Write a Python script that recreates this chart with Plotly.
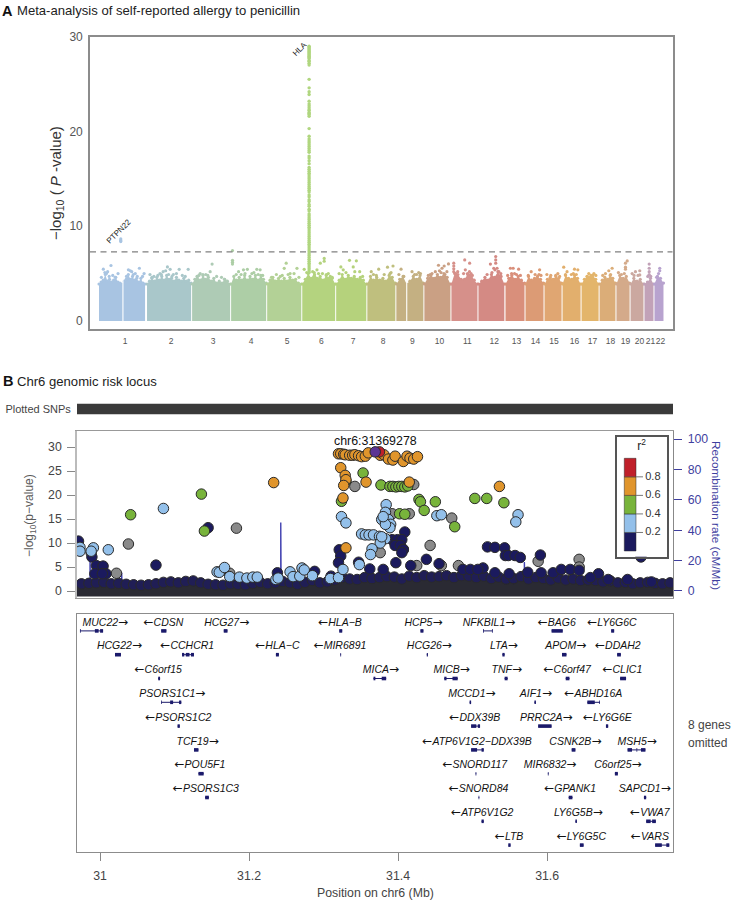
import plotly.graph_objects as go

W, H = 747, 910

# ---- panel A: genome-wide values ----
chr_names = ["1", "2", "3", "4", "5", "6", "7", "8", "9", "10", "11",
             "12", "13", "14", "15", "16", "17", "18", "19", "20", "21", "22"]
chr_start = [0, 245, 475, 674, 858, 1037, 1210, 1369, 1517, 1660, 1798,
             1936, 2074, 2176, 2273, 2365, 2462, 2554, 2640, 2712, 2783, 2834]
chr_end = [235, 470, 669, 853, 1032, 1205, 1364, 1512, 1655, 1793, 1931,
           2068, 2171, 2268, 2360, 2457, 2549, 2635, 2707, 2778, 2829, 2880]
chr_ticks = [133, 368, 582, 776, 960, 1134, 1297, 1450, 1599, 1737, 1879,
             2017, 2130, 2227, 2321, 2426, 2518, 2610, 2686, 2758, 2814, 2865]
chr_colors = ["#A8C4E2", "#A9C7CA", "#AECBB5", "#ADCEA6", "#B3D196", "#B4D37F", "#B5D27C", "#BFBF7E",
              "#C4B082", "#CAA084", "#D6908A", "#D48A84", "#D98F7B", "#DC9B75", "#E0A672", "#E2AF6D",
              "#E3B56B", "#DBAD78", "#D4AA8A", "#CBA8A0", "#C2A2B8", "#B8A3CF"]
centromere_gaps = [122, 1570]

# top edge of the solid mass of SNPs in each chromosome
chr_top = [
    [3.9, 4.1, 4.3, 4.9, 4.2, 4.4, 4.1, 4.3, 4.6, 4.1, 4.0, 3.9, 4.2, 4.4, 4.9, 4.4, 4.7, 4.3, 4.5, 4.1, 4.5, 4.0, 3.9],
    [3.9, 4.2, 4.5, 4.2, 4.6, 4.3, 4.7, 4.3, 4.8, 4.4, 4.5, 4.2, 4.6, 4.3, 4.2, 4.5, 4.2, 4.3, 4.0],
    [3.9, 4.4, 4.7, 4.3, 4.8, 4.4, 4.6, 4.2, 4.5, 4.0, 4.2, 4.0, 4.4, 4.2, 3.9],
    [3.9, 4.7, 4.3, 4.6, 4.3, 4.8, 4.3, 4.7, 4.4, 4.8, 4.3, 4.8, 4.4, 4.0],
    [3.9, 4.3, 4.6, 4.2, 4.5, 4.2, 4.5, 4.2, 4.6, 4.3, 4.4, 4.0, 3.9],
    [3.9, 4.4, 5.0, 4.5, 5.1, 4.5, 4.7, 4.3, 4.8, 4.5, 4.5, 3.9],
    [3.9, 4.3, 4.9, 4.4, 4.8, 4.5, 4.7, 4.4, 4.6, 4.3, 3.9],
    [3.9, 4.7, 4.3, 4.6, 4.3, 4.5, 4.2, 4.8, 4.6, 4.0],
    [3.9, 4.4, 4.7, 3.9, 4.2, 4.7, 4.4, 4.8, 4.0],
    [3.9, 4.5, 4.8, 4.5, 4.9, 4.6, 5.0, 4.6, 3.9],
    [3.9, 5.0, 4.9, 4.4, 4.4, 4.9, 5.0, 4.3, 3.9],
    [3.9, 4.2, 4.6, 4.3, 4.9, 4.6, 5.2, 4.7, 3.9],
    [3.9, 4.5, 4.8, 4.4, 4.7, 4.3, 4.0],
    [3.9, 4.7, 4.3, 4.5, 4.7, 4.4, 4.0],
    [3.9, 4.4, 4.6, 4.4, 4.7, 4.5, 4.0],
    [3.9, 4.8, 4.5, 4.4, 4.8, 4.5, 3.9],
    [3.9, 4.4, 4.7, 4.6, 4.8, 4.4, 3.9],
    [3.9, 4.3, 4.6, 4.4, 4.8, 4.5, 4.0],
    [3.9, 4.8, 4.5, 4.7, 4.0],
    [3.9, 4.5, 4.2, 4.4, 3.9],
    [3.9, 4.1, 4.5, 3.9],
    [3.9, 4.7, 4.5, 4.0],
]

# points standing clear of the mass, per chromosome
hit_x = [
    [22, 44, 61, 30, 38, 97, 111, 111, 111, 150, 167, 206, 230, 160, 185, 52, 70, 83, 140, 175, 195, 222, 12],
    [260, 311, 327, 349, 363, 379, 409, 455, 340, 395, 280, 300, 318, 372, 425, 440, 270, 355],
    [516, 577, 567, 530, 625, 500, 545, 555, 600, 640, 510],
    [681, 681, 681, 681, 712, 737, 757, 805, 822, 780, 700, 725, 745, 790, 812, 835],
    [955, 945, 905, 975, 1010, 995, 880, 925, 935, 965, 1020],
    [1047, 1129, 1149, 1149, 1112, 1170, 1060, 1090, 1100, 1120, 1140, 1160, 1180, 1190],
    [1234, 1278, 1313, 1297, 1246, 1330, 1225, 1260, 1305, 1345],
    [1389, 1427, 1472, 1500, 1485, 1400, 1415, 1455, 1490],
    [1541, 1597, 1631, 1640, 1530, 1555, 1610, 1620],
    [1732, 1783, 1761, 1750, 1737, 1716, 1699, 1765, 1680, 1690, 1745, 1775],
    [1866, 1891, 1810, 1810, 1810, 1810, 1830, 1869, 1890, 1820, 1860, 1880, 1905],
    [2024, 2024, 2024, 1997, 2014, 2031, 1980, 2005, 2040, 2050, 2020],
    [2099, 2113, 2141, 2105, 2130, 2085, 2120, 2150],
    [2205, 2248, 2245, 2190, 2225, 2255],
    [2285, 2341, 2305, 2330, 2350],
    [2371, 2388, 2426, 2443, 2410, 2435, 2380, 2420],
    [2499, 2525, 2510, 2490, 2535],
    [2618, 2601, 2584, 2610, 2570],
    [2695, 2686, 2686, 2686, 2650, 2665, 2680],
    [2759, 2737, 2720, 2759, 2730, 2750],
    [2807, 2807, 2807, 2807, 2800, 2815],
    [2861, 2861, 2845, 2855],
]
hit_p = [
    [5.46, 5.2, 5.85, 5.1, 5.0, 5.0, 8.66, 8.5, 8.38, 5.4, 5.2, 5.56, 5.0, 5.3, 5.0, 4.7, 4.8, 4.6, 4.7, 4.9, 4.7, 4.7, 4.6],
    [4.9, 5.0, 5.2, 5.7, 5.45, 4.9, 5.45, 5.45, 5.3, 5.0, 4.7, 4.8, 4.9, 4.7, 4.8, 4.7, 4.6, 4.9],
    [5.0, 6.0, 5.2, 4.9, 4.6, 4.7, 4.9, 4.8, 4.7, 4.4, 4.8],
    [7.43, 6.4, 6.2, 6.0, 5.2, 5.4, 5.45, 5.45, 5.4, 5.0, 4.9, 4.9, 5.0, 5.1, 4.9, 4.8],
    [6.1, 5.55, 4.9, 5.0, 5.55, 5.0, 4.6, 4.7, 4.8, 4.9, 4.6],
    [5.45, 6.1, 6.6, 6.3, 5.4, 5.0, 5.1, 5.2, 4.9, 5.0, 5.0, 4.9, 4.7, 4.6],
    [5.7, 6.4, 6.35, 5.7, 5.4, 5.2, 5.0, 5.1, 5.2, 4.7],
    [5.2, 5.46, 5.67, 5.8, 5.0, 4.9, 4.8, 4.9, 5.1],
    [5.46, 5.2, 5.1, 5.0, 4.9, 4.7, 4.9, 4.9],
    [5.88, 6.02, 5.8, 5.56, 5.3, 5.2, 5.0, 4.9, 4.8, 4.9, 5.1, 5.2],
    [6.44, 6.1, 6.1, 5.8, 5.5, 5.2, 5.2, 5.4, 5.2, 5.0, 5.0, 5.0, 4.8],
    [6.8, 6.44, 6.1, 6.0, 5.56, 5.56, 4.9, 5.1, 5.2, 5.0, 5.4],
    [5.56, 5.56, 5.46, 5.0, 4.9, 4.8, 5.0, 4.8],
    [5.2, 5.4, 4.9, 4.8, 4.9, 4.8],
    [4.9, 5.0, 4.8, 4.8, 4.7],
    [5.67, 5.2, 5.46, 5.4, 4.9, 4.9, 4.9, 5.0],
    [5.0, 5.0, 4.8, 4.7, 4.8],
    [5.56, 5.3, 5.0, 4.9, 4.8],
    [6.34, 6.1, 5.67, 5.46, 5.1, 4.9, 5.0],
    [5.3, 5.2, 5.0, 4.86, 4.8, 4.8],
    [6.0, 5.56, 5.2, 4.9, 4.7, 4.7],
    [5.56, 5.3, 4.6, 5.0],
]

hla_x = 1072
hla_p = [29.0, 28.9, 28.8, 28.7, 28.6, 28.5, 28.4, 28.3, 28.2, 28.1, 28.0, 27.9, 27.8, 27.7, 27.5, 27.4, 27.2, 27.0,
         25.5, 24.6, 24.2, 23.9, 23.2, 22.9, 22.7, 22.5, 22.3, 22.2, 22.0, 21.9, 21.8, 21.6, 20.3, 19.5, 19.2, 19.0,
         18.8, 18.6, 18.4, 18.2, 18.0, 17.8, 17.4, 17.2, 16.9, 16.6, 16.2, 16.0, 15.8, 15.6, 15.4, 15.2, 15.0, 14.8,
         14.6, 14.4, 14.2, 14.0, 13.8, 13.6, 13.3, 13.1, 12.8, 12.6, 12.3, 12.1, 11.8, 11.6, 11.3, 11.1, 10.9, 10.7,
         10.5, 10.3, 10.1, 9.9, 9.7, 9.5, 9.3, 9.1, 8.9, 8.7, 8.5, 8.3, 8.1, 7.9, 7.7, 7.5, 7.3, 7.1, 6.9, 6.7, 6.5,
         6.3, 6.1, 5.9, 5.7, 5.5, 5.3, 5.1]
threshold = 7.3

# ---- panel B: locus values ----
grey_mb = [31.038, 31.022, 31.183, 31.174, 31.342, 31.421, 31.392, 31.415, 31.472, 31.443, 31.376, 31.643, 31.588,
           31.481, 31.425, 31.458, 30.988, 31.643]
grey_p = [9.8, 3.7, 13.1, 3.7, 21.8, 22.2, 16.1, 16.1, 15.2, 9.5, 8.0, 6.6, 6.2, 5.3, 5.3, 5.3, 8.0, 5.0]

navy_mb = [30.971, 30.989, 31.145, 31.075, 30.995, 31.004, 30.993, 31.008, 31.003, 31.238, 31.288, 31.310, 31.409,
           31.392, 31.399, 31.405, 31.396, 31.403, 31.407, 31.407, 31.405, 31.397, 31.438, 31.455, 31.417, 31.362,
           31.347, 31.321, 31.323, 31.320, 31.380, 31.520, 31.530, 31.543, 31.544, 31.548, 31.557, 31.564, 31.591,
           31.514, 31.530, 31.549, 31.574, 31.592, 31.608, 31.619, 31.631, 31.643, 31.669, 31.726, 31.658, 31.682,
           31.708, 31.740, 31.487, 31.497, 31.507]
navy_p = [10.4, 7.1, 13.2, 5.4, 5.3, 5.2, 3.6, 3.6, 3.6, 3.8, 4.1, 3.1, 12.3, 10.7, 10.7, 10.7, 9.5, 9.5, 8.7, 8.6,
          8.0, 5.9, 6.6, 5.7, 5.3, 4.6, 6.0, 8.6, 7.3, 5.9, 4.5, 9.2, 9.1, 9.0, 7.4, 7.4, 7.4, 7.0, 7.5, 4.8, 3.8,
          3.6, 3.9, 3.8, 3.8, 4.5, 4.5, 4.3, 3.6, 7.1, 2.8, 2.4, 2.4, 1.9, 4.5, 4.5, 4.5]

blue_mb = [30.973, 30.973, 30.991, 30.988, 31.011, 31.085, 31.157, 31.160, 31.167, 31.174, 31.187, 31.197, 31.205,
           31.211, 31.236, 31.239, 31.255, 31.259, 31.268, 31.271, 31.274, 31.285, 31.309, 31.320, 31.384, 31.383,
           31.324, 31.330, 31.378, 31.383, 31.387, 31.390, 31.389, 31.383, 31.380, 31.452, 31.458, 31.561, 31.558,
           31.351, 31.356, 31.361, 31.367, 31.375, 31.383, 31.376, 31.378, 31.365, 31.363, 31.348, 31.326]
blue_p = [9.1, 8.3, 9.0, 8.3, 8.6, 17.2, 4.0, 3.9, 4.9, 3.0, 2.9, 2.7, 2.9, 2.9, 2.4, 2.7, 4.0, 3.0, 3.1, 4.8, 4.4,
          3.2, 2.6, 2.8, 18.0, 16.4, 15.5, 14.2, 14.9, 14.5, 14.9, 13.9, 13.2, 13.9, 15.5, 15.7, 15.9, 15.9, 14.4,
          11.9, 11.7, 11.7, 11.7, 11.4, 10.9, 10.0, 11.3, 8.8, 7.6, 5.5, 4.5]

green_mb = [31.041, 31.136, 31.140, 31.353, 31.330, 31.324, 31.377, 31.389, 31.393, 31.397, 31.401, 31.405, 31.409,
            31.413, 31.428, 31.430, 31.450, 31.435, 31.476, 31.402, 31.409, 31.503, 31.519, 31.542]
green_p = [15.9, 20.2, 12.5, 24.6, 22.9, 18.7, 22.1, 21.8, 21.8, 21.7, 21.8, 21.8, 21.7, 21.9, 19.1, 18.6, 18.6,
           16.8, 13.4, 16.1, 16.0, 19.3, 19.3, 18.4]

orange_mb = [31.233, 31.320, 31.323, 31.327, 31.329, 31.335, 31.339, 31.342, 31.347, 31.351, 31.356, 31.360, 31.376,
             31.381, 31.387, 31.393, 31.396, 31.407, 31.412, 31.416, 31.421, 31.426, 31.323, 31.329, 31.330, 31.327,
             31.357, 31.326, 31.330, 31.415, 31.536]
orange_p = [22.6, 28.6, 28.6, 28.5, 28.4, 28.3, 28.3, 28.4, 28.2, 28.0, 28.1, 28.8, 28.3, 28.4, 27.5, 27.3, 28.1,
            27.0, 28.1, 27.7, 27.5, 28.0, 25.7, 24.1, 23.2, 22.0, 22.7, 19.4, 9.0, 22.7, 21.8]

red_mb = [31.375]
red_p = [29.0]
lead_mb = [31.369278]
lead_p = [29.0]
lead_label = "chr6:31369278"

# scalloped row of navy SNPs sitting on the solid base
crown_mb = [30.975, 30.985, 30.995, 31.005, 31.015, 31.025, 31.035, 31.045, 31.055, 31.065,
            31.075, 31.085, 31.095, 31.105, 31.115, 31.125, 31.135, 31.145, 31.155, 31.165,
            31.175, 31.185, 31.195, 31.205, 31.215, 31.225, 31.235, 31.245, 31.255, 31.265,
            31.275, 31.285, 31.295, 31.305, 31.315, 31.325, 31.335, 31.345, 31.355, 31.365,
            31.375, 31.385, 31.395, 31.405, 31.415, 31.425, 31.435, 31.445, 31.455, 31.465,
            31.475, 31.485, 31.495, 31.505, 31.515, 31.525, 31.535, 31.545, 31.555, 31.565,
            31.575, 31.585, 31.595, 31.605, 31.615, 31.625, 31.635, 31.645, 31.655, 31.665,
            31.675, 31.685, 31.695, 31.705, 31.715, 31.725, 31.735, 31.745, 31.755, 31.765]
crown_p = [1.5, 1.6, 1.7, 1.8, 1.5, 1.6, 1.4, 1.3, 1.2, 1.3,
           1.5, 1.8, 1.9, 1.7, 2.0, 2.1, 1.7, 1.4, 1.3, 1.2,
           1.5, 1.4, 1.3, 1.6, 1.8, 1.5, 1.7, 2.0, 1.7, 1.4,
           1.8, 2.2, 1.7, 1.9, 2.3, 2.8, 2.5, 2.4, 2.8, 2.6,
           2.8, 3.0, 2.9, 2.5, 3.1, 2.8, 3.2, 2.9, 3.0, 3.2,
           2.8, 3.2, 3.1, 2.8, 3.1, 2.6, 2.9, 2.5, 2.6, 3.0,
           2.5, 2.8, 2.6, 2.3, 2.7, 2.3, 2.5, 2.2, 2.3, 2.2,
           1.9, 2.1, 1.7, 1.8, 1.5, 1.7, 1.8, 1.6, 1.5, 1.7]

# solid dark base under the points
mass_mb = [30.969, 31.05, 31.10, 31.15, 31.20, 31.25, 31.30, 31.33, 31.40, 31.45, 31.50, 31.55, 31.60, 31.65,
           31.70, 31.769, 31.769, 30.969]
mass_p = [1.6, 1.5, 1.5, 1.6, 1.6, 1.5, 1.8, 2.3, 2.8, 2.9, 2.8, 2.5, 2.4, 2.2, 1.9, 1.8, -1.15, -1.15]

recomb_mb = [30.969, 30.9865, 30.9865, 30.987, 31.029, 31.029, 31.0295, 31.2425, 31.2425, 31.243, 31.5695, 31.5695,
             31.5705, 31.769]
recomb_rate = [1, 1, 24, 1, 1, 12, 1, 1, 45, 1, 1, 19, 1, 1]

r2_low = [0, 0.2, 0.4, 0.6, 0.8]
r2_colors = ["#1B1A5E", "#93C0EA", "#78B43B", "#E0952C", "#C0202A"]
r2_ticks = [0.2, 0.4, 0.6, 0.8]

# ---- genes ----
gene_names = ["MUC22", "CDSN", "HCG27", "HLA−B", "HCP5", "NFKBIL1", "BAG6", "LY6G6C",
              "HCG22", "CCHCR1", "HLA−C", "MIR6891", "HCG26", "LTA", "APOM", "DDAH2",
              "C6orf15", "MICA", "MICB", "TNF", "C6orf47", "CLIC1",
              "PSORS1C1", "MCCD1", "AIF1", "ABHD16A",
              "PSORS1C2", "DDX39B", "PRRC2A", "LY6G6E",
              "TCF19", "ATP6V1G2−DDX39B", "CSNK2B", "MSH5",
              "POU5F1", "SNORD117", "MIR6832", "C6orf25",
              "PSORS1C3", "SNORD84", "GPANK1", "SAPCD1",
              "ATP6V1G2", "LY6G5B", "VWA7",
              "LTB", "LY6G5C", "VARS"]
gene_dirs = [">", "<", ">", "<", ">", ">", "<", "<",
             ">", "<", "<", "<", ">", ">", ">", "<",
             "<", ">", ">", ">", "<", "<",
             ">", ">", ">", "<",
             "<", "<", ">", "<",
             ">", "<", ">", ">",
             "<", "<", ">", ">",
             "<", "<", "<", ">",
             "<", ">", "<",
             "<", "<", "<"]
gene_rows = [1, 1, 1, 1, 1, 1, 1, 1,
             2, 2, 2, 2, 2, 2, 2, 2,
             3, 3, 3, 3, 3, 3,
             4, 4, 4, 4,
             5, 5, 5, 5,
             6, 6, 6, 6,
             7, 7, 7, 7,
             8, 8, 8, 8,
             9, 9, 9,
             10, 10, 10]
gene_label_mb = [31.007, 31.085, 31.170, 31.322, 31.434, 31.522, 31.613, 31.687,
                 31.026, 31.117, 31.238, 31.322, 31.442, 31.542, 31.625, 31.695,
                 31.078, 31.377, 31.472, 31.546, 31.627, 31.701,
                 31.097, 31.499, 31.585, 31.662,
                 31.105, 31.503, 31.599, 31.681,
                 31.131, 31.506, 31.638, 31.721,
                 31.134, 31.503, 31.604, 31.695,
                 31.142, 31.508, 31.631, 31.731,
                 31.513, 31.642, 31.738,
                 31.549, 31.646, 31.738]
gene_start = [30.973, 31.082, 31.166, 31.321, 31.430, 31.514, 31.606, 31.686,
              31.020, 31.110, 31.236, 31.3225, 31.4385, 31.540, 31.620, 31.694,
              31.078, 31.367, 31.462, 31.543, 31.625, 31.698,
              31.082, 31.496, 31.583, 31.654,
              31.104, 31.498, 31.588, 31.679,
              31.126, 31.498, 31.633, 31.708,
              31.132, 31.504, 31.601, 31.691,
              31.141, 31.508, 31.629, 31.730,
              31.512, 31.638, 31.733,
              31.548, 31.644, 31.745]
gene_end = [31.004, 31.089, 31.171, 31.325, 31.434, 31.527, 31.621, 31.690,
            31.028, 31.126, 31.240, 31.3235, 31.440, 31.543, 31.626, 31.699,
            31.0805, 31.384, 31.480, 31.547, 31.630, 31.706,
            31.109, 31.498, 31.585, 31.671,
            31.107, 31.510, 31.606, 31.682,
            31.132, 31.515, 31.638, 31.732,
            31.139, 31.505, 31.602, 31.695,
            31.146, 31.509, 31.634, 31.733,
            31.515, 31.640, 31.746,
            31.551, 31.649, 31.764]
# genes whose exons do not fill the whole span
gene_exons = {
    "MUC22": [(30.973, 30.974), (30.993, 30.998), (31.000, 31.004)],
    "NFKBIL1": [(31.514, 31.515), (31.526, 31.527)],
    "CCHCR1": [(31.110, 31.113), (31.115, 31.120), (31.122, 31.126)],
    "MICA": [(31.367, 31.3695), (31.378, 31.384)],
    "MICB": [(31.462, 31.465), (31.473, 31.480)],
    "PSORS1C1": [(31.082, 31.083), (31.094, 31.098), (31.106, 31.109)],
    "ABHD16A": [(31.654, 31.664), (31.670, 31.671)],
    "MSH5": [(31.708, 31.714), (31.720, 31.721), (31.726, 31.732)],
    "VARS": [(31.745, 31.754), (31.760, 31.764)],
    "ATP6V1G2−DDX39B": [(31.498, 31.506), (31.512, 31.515)],
    "DDX39B": [(31.498, 31.505), (31.507, 31.510)],
    "VWA7": [(31.733, 31.739), (31.741, 31.746)],
}


def dom_x(left, right):
    return [left / W, right / W]


def dom_y(top, bottom):
    return [1 - bottom / H, 1 - top / H]


FONT = "Liberation Sans"
NAVY = "#1B1A6B"
BLUE = "#3F3F9F"
BOX = "#8C8C8C"
OUTLINE = "#2A2A2A"

fig = go.Figure()

# Manhattan
for i in range(22):
    n = len(chr_top[i])
    step = (chr_end[i] - chr_start[i]) / (n - 1)
    xs = [chr_start[i] + step * k for k in range(n)]
    fig.add_trace(go.Scatter(x=[chr_start[i]] + xs + [chr_end[i]], y=[0] + chr_top[i] + [0],
                             mode="lines", fill="toself", fillcolor=chr_colors[i], line=dict(width=0),
                             hoverinfo="skip", xaxis="x", yaxis="y"))
    fig.add_trace(go.Scatter(x=xs + hit_x[i], y=chr_top[i] + hit_p[i], mode="markers",
                             marker=dict(size=3.2, color=chr_colors[i]), xaxis="x", yaxis="y"))
for gap in centromere_gaps:
    fig.add_trace(go.Scatter(x=[gap, gap], y=[-0.2, 5.6], mode="lines", line=dict(color="white", width=1.1),
                             hoverinfo="skip", xaxis="x", yaxis="y"))
fig.add_trace(go.Scatter(x=[hla_x] * len(hla_p), y=hla_p, mode="markers",
                         marker=dict(size=3.4, color="#B0D67F"), xaxis="x", yaxis="y"))
fig.add_shape(type="line", xref="x domain", yref="y", x0=0, x1=1, y0=threshold, y1=threshold,
              line=dict(color="#808080", width=1.3, dash="6px,4.5px"))

# Plotted SNPs strip
fig.add_trace(go.Bar(y=["Plotted SNPs"], x=[0.8], base=[30.969], orientation="h", width=[1],
                     marker=dict(color="#3A3A3A", line=dict(width=0)), xaxis="x2", yaxis="y2"))

# locus: recombination rate sits under the points
fig.add_trace(go.Scatter(x=recomb_mb, y=recomb_rate, mode="lines", line=dict(color="#4040B0", width=1.4),
                         xaxis="x3", yaxis="y6"))
fig.add_trace(go.Scatter(x=mass_mb, y=mass_p, mode="lines", fill="toself", fillcolor="#2A2A33",
                         line=dict(width=0), hoverinfo="skip", xaxis="x3", yaxis="y3"))
layers = [(crown_mb, crown_p, "#201E55"), (grey_mb, grey_p, "#8A8A8A"), (navy_mb, navy_p, r2_colors[0]),
          (blue_mb, blue_p, r2_colors[1]), (green_mb, green_p, r2_colors[2]), (orange_mb, orange_p, r2_colors[3]),
          (red_mb, red_p, r2_colors[4]), (lead_mb, lead_p, "#5B3494")]
for xs, ys, col in layers:
    fig.add_trace(go.Scatter(x=xs, y=ys, mode="markers",
                             marker=dict(size=10.5, color=col, line=dict(color=OUTLINE, width=1)),
                             xaxis="x3", yaxis="y3"))

# genes
RIGHT = '<span style="font-family:DejaVu Sans;font-size:12px">→</span>'
LEFT = '<span style="font-family:DejaVu Sans;font-size:12px">←</span>'
span_x, span_y, exon_x, exon_y, labels = [], [], [], [], []
for name, direction, row, start, end in zip(gene_names, gene_dirs, gene_rows, gene_start, gene_end):
    span_x += [start, end, None]
    span_y += [row + 0.33, row + 0.33, None]
    for a, b in gene_exons.get(name, [(start, end)]):
        exon_x += [a, b, None]
        exon_y += [row + 0.33, row + 0.33, None]
    labels.append(f"<i>{name}</i>{RIGHT}" if direction == ">" else f"{LEFT}<i>{name}</i>")
fig.add_trace(go.Scatter(x=span_x, y=span_y, mode="lines", line=dict(color=NAVY, width=1),
                         xaxis="x4", yaxis="y4"))
fig.add_trace(go.Scatter(x=exon_x, y=exon_y, mode="lines", line=dict(color=NAVY, width=3.6),
                         xaxis="x4", yaxis="y4"))
fig.add_trace(go.Scatter(x=gene_label_mb, y=gene_rows, mode="text", text=labels,
                         textfont=dict(family=FONT, size=10.5, color="#111111"),
                         xaxis="x4", yaxis="y4"))

# r2 key
fig.add_trace(go.Bar(x=[0.26] * 5, y=[0.2] * 5, base=r2_low, width=[0.237] * 5,
                     marker=dict(color=r2_colors, line=dict(color=OUTLINE, width=0.5)),
                     xaxis="x5", yaxis="y5"))
tick_x, tick_y = [], []
for t in r2_ticks:
    tick_x += [0.377, 0.52, None]
    tick_y += [t, t, None]
fig.add_trace(go.Scatter(x=tick_x, y=tick_y, mode="lines", line=dict(color="#777777", width=1),
                         xaxis="x5", yaxis="y5"))
fig.add_trace(go.Scatter(x=[0.72] * 4, y=r2_ticks, mode="text", text=[f"{t:.1f}" for t in r2_ticks],
                         textfont=dict(family=FONT, size=11, color="#333333"), xaxis="x5", yaxis="y5"))
fig.add_trace(go.Scatter(x=[0.49], y=[1.12], mode="text", text=["r<sup>2</sup>"],
                         textfont=dict(family=FONT, size=12, color="#222222"), xaxis="x5", yaxis="y5"))

hidden = dict(showticklabels=False, ticks="", showgrid=False, zeroline=False)
locus_range = [30.969, 31.769]
fig.update_layout(
    width=W, height=H, autosize=False,
    margin=dict(l=0, r=0, t=0, b=0, autoexpand=False),
    paper_bgcolor="white", plot_bgcolor="white",
    showlegend=False, hovermode=False, barmode="overlay",
    font=dict(family=FONT, color="#444444"),
    xaxis=dict(domain=dom_x(90, 672.5), anchor="y", range=[-46, 2926], tickmode="array", tickvals=chr_ticks,
               ticktext=chr_names, tickangle=0, tickfont=dict(size=8.5, color="#555555"), ticks="outside", ticklen=3,
               tickcolor="rgba(0,0,0,0)", showgrid=False, zeroline=False,
               showline=True, mirror=True, linecolor=BOX, linewidth=1.6),
    yaxis=dict(domain=dom_y(36.7, 329), anchor="x", range=[-0.85, 30], tickmode="array", tickvals=[0, 10, 20, 30],
               tickfont=dict(size=12, color="#555555"), ticks="outside", ticklen=3, tickcolor="rgba(0,0,0,0)",
               showgrid=False, zeroline=False, showline=True, mirror=True, linecolor=BOX, linewidth=1.6),
    xaxis2=dict(domain=dom_x(77, 673), anchor="y2", range=locus_range, visible=False),
    yaxis2=dict(domain=dom_y(403.5, 414.5), anchor="x2", range=[-0.5, 0.5], ticks="outside", ticklen=3,
                tickcolor="rgba(0,0,0,0)", tickfont=dict(size=11, color="#444444"), showgrid=False,
                zeroline=False, showline=False),
    xaxis3=dict(domain=dom_x(77, 673), anchor="y3", range=locus_range, showline=True, mirror=True,
                linecolor="#999999", linewidth=1.4, **hidden),
    yaxis3=dict(domain=dom_y(431, 597.5), anchor="x3", range=[-1.35, 33.35], overlaying="y6",
                tickmode="array", tickvals=[0, 5, 10, 15, 20, 25, 30], tickfont=dict(size=12.3, color="#444444"),
                ticks="outside", ticklen=8, ticklabelstandoff=3, tickcolor="#888888", showgrid=False, zeroline=False,
                showline=True, linecolor="#BBBBBB", linewidth=1.6),
    yaxis6=dict(domain=dom_y(431, 597.5), anchor="x3", side="right", range=[-4.3, 105.3],
                tickmode="array", tickvals=[0, 20, 40, 60, 80, 100], tickfont=dict(size=12.3, color=BLUE),
                ticks="outside", ticklen=8, ticklabelstandoff=3, tickcolor=BLUE, showgrid=False, zeroline=False,
                showline=True, linecolor="#888888", linewidth=1.4),
    xaxis4=dict(domain=dom_x(77, 673), anchor="y4", range=locus_range, tickmode="array",
                tickvals=[31, 31.2, 31.4, 31.6], ticktext=["31", "31.2", "31.4", "31.6"],
                tickfont=dict(size=12.3, color="#444444"), ticks="outside", ticklen=8, ticklabelstandoff=4,
                tickcolor="#888888", showgrid=False, zeroline=False, showline=True, mirror=True,
                linecolor="#8C8C8C", linewidth=1.4),
    yaxis4=dict(domain=dom_y(614, 852), anchor="x4", range=[10.62, 0.62], showline=True, mirror=True,
                linecolor="#8C8C8C", linewidth=1.4, **hidden),
    xaxis5=dict(domain=dom_x(617.3, 666.7), anchor="y5", range=[0, 1], showline=True, mirror=True,
                linecolor="#555555", linewidth=1.5, **hidden),
    yaxis5=dict(domain=dom_y(437.3, 556.7), anchor="x5", range=[-0.0615, 1.2265], showline=True, mirror=True,
                linecolor="#555555", linewidth=1.5, **hidden),
)


def note(text, x, y, size=11, color="#444444", angle=0, anchor="left"):
    fig.add_annotation(text=text, xref="paper", yref="paper", x=x / W, y=1 - y / H, xanchor=anchor,
                       yanchor="middle", showarrow=False, textangle=angle,
                       font=dict(family=FONT, size=size, color=color))


note("<b>A</b>", 0, 11, size=14.5, color="#111111")
note("Meta-analysis of self-reported allergy to penicillin", 14.5, 11, size=13.1, color="#222222")
note("<b>B</b>", 1, 381, size=14.5, color="#111111")
note("Chr6 genomic risk locus", 15, 381, size=13.1, color="#222222")
note("−log<sub>10</sub> ( <i>P</i> -value)", 57, 183, size=15, color="#333333", angle=-90, anchor="center")
note("HLA", 299.5, 49.5, size=8, color="#222222", angle=-45, anchor="center")
note("PTPN22", 119, 232, size=8, color="#222222", angle=-45, anchor="center")
note("−log<sub>10</sub>(p−value)", 30, 516, size=12, color="#5A5A5A", angle=-90, anchor="center")
note("Recombination rate (cM/Mb)", 716, 515, size=11.8, color=BLUE, angle=90, anchor="center")
note(lead_label, 375, 441, size=12.4, color="#111111", anchor="center")
note("8 genes", 685.5, 725, size=12)
note("omitted", 685.5, 742.5, size=12)
note("Position on chr6 (Mb)", 375.5, 893, size=12.3, anchor="center")

fig.write_html("out.html", config={"displayModeBar": False}, post_script="document.body.style.margin='0';")
